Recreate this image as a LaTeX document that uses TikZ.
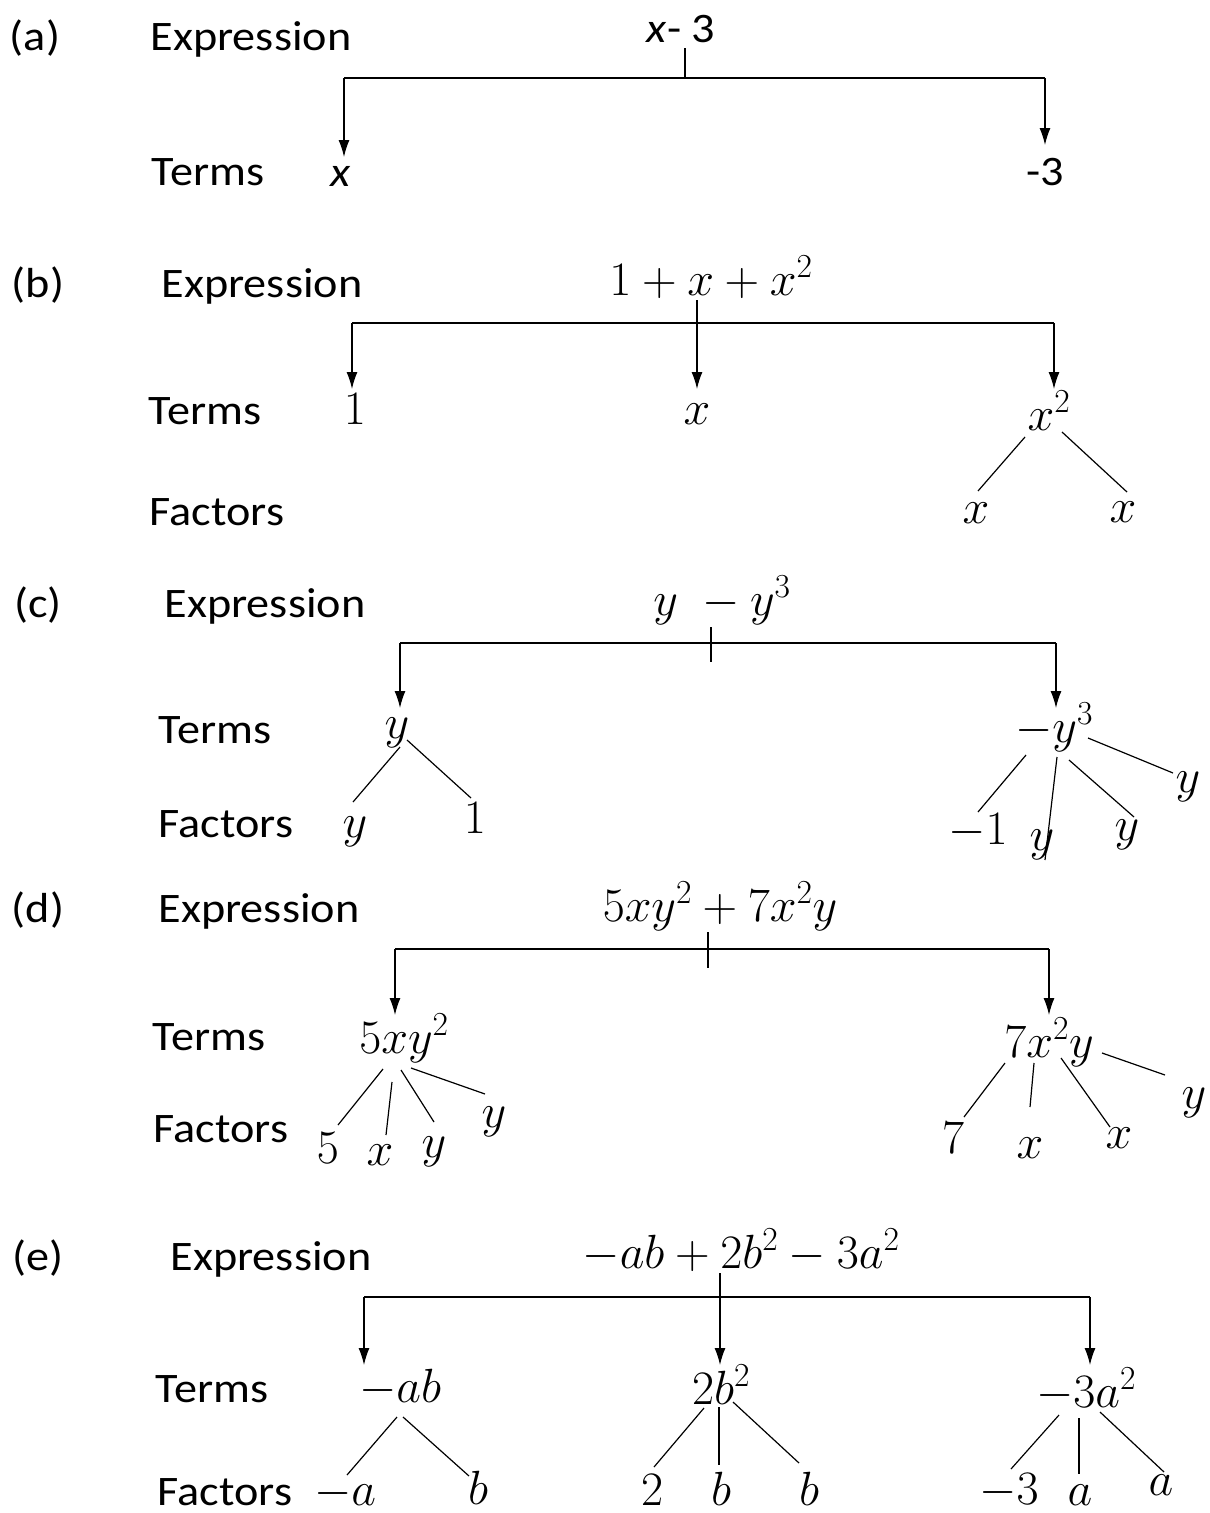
\RequirePackage{fix-cm}
\documentclass[tikz,border=0pt]{standalone}
\usepackage{fontspec}
\setmainfont{Carlito}[FakeStretch=1.1]
\usepackage{graphicx}
\usetikzlibrary{arrows.meta}
\tikzset{
  lbl/.style={inner sep=0pt, anchor=base, font=\fontsize{42}{50}\selectfont},
  mth/.style={inner sep=0pt, anchor=base, font=\fontsize{48}{54}\selectfont},
  barline/.style={line width=1.6pt},
  fline/.style={line width=1.2pt},
  arr/.style={line width=1.3pt, -{Latex[length=17pt,width=11pt]}},
}
\begin{document}
\begin{tikzpicture}[x=1pt,y=-1pt]
\useasboundingbox (0,0) rectangle (1210,1513);
% ---------- (a)
\node[lbl] (la) at (35,50) {(a)};
\node[lbl] (ea) at (251,50) {Expression};
\node[lbl] (xa) at (681,42) {\textit{x}- 3};
\node[lbl] (ta) at (208,185) {Terms};
\node[lbl] (ta1) at (341,186) {\textit{x}};
\node[lbl] (ta2) at (1045,185) {-3};
\coordinate (aL) at (344,78);
\coordinate (aM) at (685,78);
\coordinate (aR) at (1045,78);
\draw[fline] ([shift={(4,6)}]xa.base) -- (aM);
\draw[barline] (aL) -- (aR);
\draw[arr] (aL) -- ([shift={(3,-29)}]ta1.base);
\draw[arr] (aR) -- ([shift={(0,-40)}]ta2.base);
% ---------- (b)
\node[lbl] (lb) at (38,297) {(b)};
\node[lbl] (eb) at (262,297) {Expression};
\node[mth] (xb) at (711,295) {$1+x+x^2$};
\node[lbl] (tb) at (205,424) {Terms};
\node[mth] (tb1) at (355,424) {$1$};
\node[mth] (tb2) at (697,424) {$x$};
\node[mth] (tb3) at (1049,430) {$x^2$};
\node[lbl] (fb) at (217,525) {Factors};
\node[mth] (fb1) at (976,523) {$x$};
\node[mth] (fb2) at (1123,522) {$x$};
\coordinate (bL) at (352,323);
\coordinate (bR) at (1054,323);
\draw[barline] (bL) -- (bR);
\draw[arr] ([shift={(-14,5)}]xb.base) -- ([shift={(0,-35)}]tb2.base);
\draw[arr] (bL) -- ([shift={(-3,-35)}]tb1.base);
\draw[arr] (bR) -- ([shift={(5,-41)}]tb3.base);
\draw[fline] ([shift={(-24,7)}]tb3.base) -- ([shift={(2,-32)}]fb1.base);
\draw[fline] ([shift={(13,2)}]tb3.base) -- ([shift={(4,-30)}]fb2.base);
% ---------- (c)
\node[lbl] (lc) at (38,617) {(c)};
\node[lbl] (ec) at (265,617) {Expression};
\node[mth] (xc) at (722,615) {$y\;-y^3$};
\node[lbl] (tc) at (215,743) {Terms};
\node[mth] (tc1) at (397,738) {$y$};
\node[mth] (tc2) at (1054,742) {$-y^3$};
\node[lbl] (fc) at (226,837) {Factors};
\node[mth] (fc1) at (355,837) {$y$};
\node[mth] (fc2) at (475,833) {$1$};
\node[mth] (fc3) at (978,844) {$-1$};
\node[mth] (fc4) at (1042,850) {$y$};
\node[mth] (fc5) at (1127,840) {$y$};
\node[mth] (fc6) at (1188,792) {$y$};
\coordinate (cL) at (400,643);
\coordinate (cR) at (1056,643);
\coordinate (cT) at (711,662);
\draw[fline] ([shift={(-11,12)}]xc.base) -- (cT);
\draw[barline] (cL) -- (cR);
\draw[arr] (cL) -- ([shift={(3,-30)}]tc1.base);
\draw[arr] (cR) -- ([shift={(2,-34)}]tc2.base);
\draw[fline] ([shift={(3,9)}]tc1.base) -- ([shift={(-2,-35)}]fc1.base);
\draw[fline] ([shift={(10,2)}]tc1.base) -- ([shift={(-4,-35)}]fc2.base);
\draw[fline] ([shift={(-28,13)}]tc2.base) -- ([shift={(0,-32)}]fc3.base);
\draw[fline] ([shift={(3,15)}]tc2.base) -- ([shift={(3,10)}]fc4.base);
\draw[fline] ([shift={(15,18)}]tc2.base) -- ([shift={(7,-23)}]fc5.base);
\draw[fline] ([shift={(34,-4)}]tc2.base) -- ([shift={(-15,-19)}]fc6.base);
% ---------- (d)
\node[lbl] (ld) at (38,922) {(d)};
\node[lbl] (ed) at (259,922) {Expression};
\node[mth] (xd) at (720,921) {$5xy^2+7x^2y$};
\node[lbl] (td) at (209,1050) {Terms};
\node[mth] (td1) at (404,1053) {$5xy^2$};
\node[mth] (td2) at (1049,1057) {$7x^2y$};
\node[lbl] (fd) at (221,1142) {Factors};
\node[mth] (fd1) at (328,1163) {$5$};
\node[mth] (fd2) at (380,1165) {$x$};
\node[mth] (fd3) at (434,1157) {$y$};
\node[mth] (fd4) at (494,1127) {$y$};
\node[mth] (fd5) at (953,1153) {$7$};
\node[mth] (fd6) at (1030,1158) {$x$};
\node[mth] (fd7) at (1119,1148) {$x$};
\node[mth] (fd8) at (1194,1108) {$y$};
\coordinate (dL) at (395,949);
\coordinate (dR) at (1049,949);
\coordinate (dT) at (708,968);
\draw[fline] ([shift={(-12,11)}]xd.base) -- (dT);
\draw[barline] (dL) -- (dR);
\draw[arr] (dL) -- ([shift={(-9,-38)}]td1.base);
\draw[arr] (dR) -- ([shift={(0,-42)}]td2.base);
\draw[fline] ([shift={(-21,16)}]td1.base) -- ([shift={(10,-38)}]fd1.base);
\draw[fline] ([shift={(-12,29)}]td1.base) -- ([shift={(6,-30)}]fd2.base);
\draw[fline] ([shift={(-3,17)}]td1.base) -- ([shift={(0,-35)}]fd3.base);
\draw[fline] ([shift={(7,15)}]td1.base) -- ([shift={(-9,-33)}]fd4.base);
\draw[fline] ([shift={(-44,6)}]td2.base) -- ([shift={(11,-36)}]fd5.base);
\draw[fline] ([shift={(-15,6)}]td2.base) -- ([shift={(0,-51)}]fd6.base);
\draw[fline] ([shift={(12,1)}]td2.base) -- ([shift={(-9,-21)}]fd7.base);
\draw[fline] ([shift={(53,-4)}]td2.base) -- ([shift={(-29,-33)}]fd8.base);
% ---------- (e)
\node[lbl] (le) at (38,1270) {(e)};
\node[lbl] (ee) at (271,1270) {Expression};
\node[mth] (xe) at (741,1268) {$-ab+2b^2-3a^2$};
\node[lbl] (te) at (212,1402) {Terms};
\node[mth] (te1) at (400,1402) {$-ab$};
\node[mth] (te2) at (721,1404) {$2b^2$};
\node[mth] (te3) at (1086,1407) {$-3a^2$};
\node[lbl] (fe) at (225,1505) {Factors};
\node[mth] (fe1) at (345,1505) {$-a$};
\node[mth] (fe2) at (478,1504) {$b$};
\node[mth] (fe3) at (652,1505) {$2$};
\node[mth] (fe4) at (721,1505) {$b$};
\node[mth] (fe5) at (809,1505) {$b$};
\node[mth] (fe6) at (1009,1504) {$-3$};
\node[mth] (fe7) at (1080,1505) {$a$};
\node[mth] (fe8) at (1161,1495) {$a$};
\coordinate (eL) at (364,1297);
\coordinate (eR) at (1090,1297);
\draw[barline] (eL) -- (eR);
\draw[arr] ([shift={(-21,5)}]xe.base) -- ([shift={(-1,-39)}]te2.base);
\draw[arr] (eL) -- ([shift={(-36,-37)}]te1.base);
\draw[arr] (eR) -- ([shift={(4,-42)}]te3.base);
\draw[fline] ([shift={(-3,15)}]te1.base) -- ([shift={(2,-30)}]fe1.base);
\draw[fline] ([shift={(3,15)}]te1.base) -- ([shift={(-9,-28)}]fe2.base);
\draw[fline] ([shift={(-17,4)}]te2.base) -- ([shift={(2,-38)}]fe3.base);
\draw[fline] ([shift={(-2,3)}]te2.base) -- ([shift={(-2,-40)}]fe4.base);
\draw[fline] ([shift={(12,-2)}]te2.base) -- ([shift={(-10,-42)}]fe5.base);
\draw[fline] ([shift={(-27,8)}]te3.base) -- ([shift={(2,-35)}]fe6.base);
\draw[fline] ([shift={(-7,11)}]te3.base) -- ([shift={(-1,-31)}]fe7.base);
\draw[fline] ([shift={(14,5)}]te3.base) -- ([shift={(3,-23)}]fe8.base);
\end{tikzpicture}
\end{document}
